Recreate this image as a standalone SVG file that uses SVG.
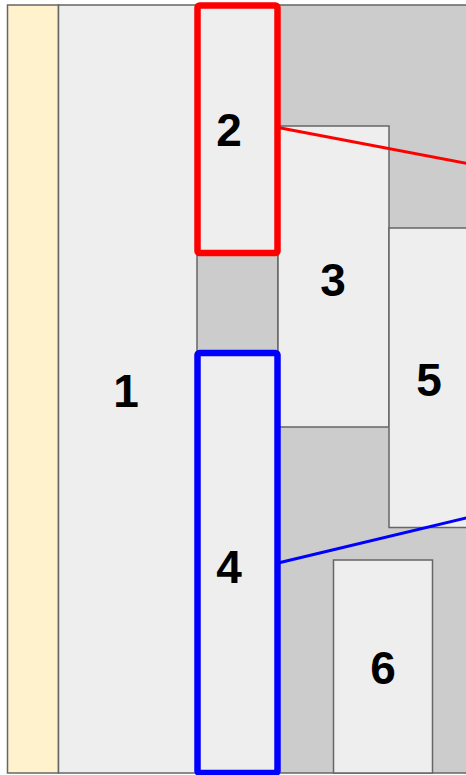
<svg xmlns="http://www.w3.org/2000/svg" width="466" height="775" viewBox="0 0 466 775">
<style>
.box{fill:#eeeeee;stroke:#666666;stroke-width:1.5}
.gap{fill:#cccccc;stroke:#666666;stroke-width:1.5}
.lbl{font-family:"Liberation Sans",Arial,sans-serif;font-weight:bold;font-size:46px;fill:#000;text-anchor:middle;dominant-baseline:central}
</style>
<rect width="466" height="775" fill="#ffffff"/>
<g id="background">
<rect class="gap" x="278" y="5" width="200" height="768"/>
</g>
<g id="strip"><rect x="7.5" y="5" width="51" height="768" fill="#fff2cc" stroke="#666666" stroke-width="1.5"/></g>
<g id="node1"><rect class="box" x="58.5" y="5" width="219.5" height="768"/><text class="lbl" x="126" y="391">1</text></g>
<g id="gapbox"><rect class="gap" x="197" y="253" width="81" height="100"/></g>
<g id="node3"><rect class="box" x="278" y="126" width="111" height="301"/><text class="lbl" x="333" y="280">3</text></g>
<g id="node5"><rect class="box" x="389" y="228" width="90" height="299.5"/><text class="lbl" x="429" y="380">5</text></g>
<g id="node6"><rect class="box" x="333.5" y="560" width="99" height="213"/><text class="lbl" x="383" y="668">6</text></g>
<g id="connectors">
<line x1="278" y1="127.5" x2="470" y2="164" stroke="#ff0000" stroke-width="3"/>
<line x1="278" y1="563" x2="470" y2="517" stroke="#0000ff" stroke-width="3"/>
</g>
<g id="node2"><rect x="197.5" y="5.5" width="80" height="247.5" rx="2" fill="#eeeeee" stroke="#ff0000" stroke-width="6.5"/><text class="lbl" x="229" y="130">2</text></g>
<g id="node4"><rect x="197.5" y="353" width="80" height="420" rx="2" fill="#eeeeee" stroke="#0000ff" stroke-width="6.5"/><text class="lbl" x="229" y="567">4</text></g>
</svg>
